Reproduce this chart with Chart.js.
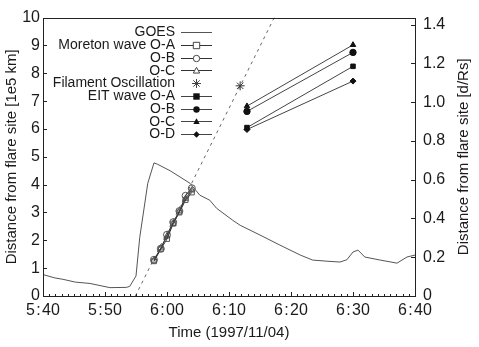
<!DOCTYPE html>
<html>
<head>
<meta charset="utf-8">
<script src="https://cdn.jsdelivr.net/npm/chart.js@4.4.1/dist/chart.umd.min.js"></script>
<style>
  html, body { margin: 0; padding: 0; background: #fff; }
  #wrap { width: 479px; height: 347px; }
</style>
</head>
<body>
<div id="wrap"><canvas id="chart" width="479" height="347"></canvas></div>
<script>
// Time axis is in minutes after 5:40 UT
const xTicks = [0, 10, 20, 30, 40, 50, 60];
const yTicksLeft = [0, 1, 2, 3, 4, 5, 6, 7, 8, 9, 10];
const yTicksRight = [0, 0.2, 0.4, 0.6, 0.8, 1.0, 1.2, 1.4];
const RSUN = 6.96; // 1e5 km per solar radius

// GOES light curve (scaled)
const goesTime = [0, 1.9, 3.2, 5.2, 7.6, 10.8, 13.5, 14.0, 15.0, 15.6, 16.9, 17.9, 18.5, 20.5, 23.7, 25.3, 26.9, 28.0, 30.6, 31.8, 35.0, 38.2, 41.5, 43.5, 45.8, 47.9, 49.0, 50.0, 50.8, 51.9, 54.4, 57.1, 58.7, 60];
const goesValue = [0.77, 0.65, 0.6, 0.5, 0.45, 0.3, 0.31, 0.35, 0.72, 2.1, 4.05, 4.78, 4.73, 4.5, 4.05, 3.62, 3.44, 3.15, 2.72, 2.54, 2.19, 1.83, 1.47, 1.29, 1.25, 1.22, 1.3, 1.58, 1.65, 1.4, 1.29, 1.18, 1.4, 1.47];

// Moreton wave fronts
const moretonTime = [17.9, 19.0, 20.0, 21.0, 22.0, 23.0, 24.0];
const moretonOA = [1.25, 1.68, 2.05, 2.6, 3.0, 3.45, 3.72];
const moretonOB = [1.3, 1.7, 2.2, 2.65, 3.05, 3.6, 3.87];
const moretonOC = [1.28, 1.72, 2.15, 2.6, 3.05, 3.5, 3.8];

// Filament oscillation and its extrapolated wave path
const filamentTime = [31.8];
const filamentValue = [7.55];
const pathTime = [14.9, 37.3];
const pathValue = [0, 10];

// EIT wave fronts
const eitTime = [32.9, 50.0];
const eitOA = [6.05, 8.25];
const eitOB = [6.63, 8.75];
const eitOC = [6.82, 9.02];
const eitOD = [5.98, 7.72];

const FONT = "'Liberation Sans', Arial, Helvetica, sans-serif";
const INK = '#1a1a1a';

function pts(xs, ys) {
  return xs.map((x, i) => ({ x: x, y: ys[i] }));
}

function fmtTime(m) {
  const total = 5 * 60 + 40 + m;
  const h = Math.floor(total / 60);
  const mm = String(total % 60).padStart(2, '0');
  return h + '\u200A:\u200A' + mm;
}

const datasets = [
  { label: 'GOES', data: pts(goesTime, goesValue), borderColor: '#555', borderWidth: 1, pointRadius: 0, marker: null, legendLine: true },
  { label: 'Moreton wave O-A', data: pts(moretonTime, moretonOA), borderColor: '#333', borderWidth: 1, pointStyle: 'rect', pointRadius: 3.5, pointBackgroundColor: 'rgba(255,255,255,0)', pointBorderColor: '#555', pointBorderWidth: 1, marker: 'rect', filled: false, legendLine: true },
  { label: 'O-B', data: pts(moretonTime, moretonOB), borderColor: '#333', borderWidth: 1, pointStyle: 'circle', pointRadius: 3.5, pointBackgroundColor: 'rgba(255,255,255,0)', pointBorderColor: '#555', pointBorderWidth: 1, marker: 'circle', filled: false, legendLine: true },
  { label: 'O-C', data: pts(moretonTime, moretonOC), borderColor: '#333', borderWidth: 1, pointStyle: 'triangle', pointRadius: 3.5, pointBackgroundColor: 'rgba(255,255,255,0)', pointBorderColor: '#555', pointBorderWidth: 1, marker: 'triangle', filled: false, legendLine: true },
  { label: 'Filament Oscillation', data: pts(filamentTime, filamentValue), showLine: false, pointStyle: 'star', pointRadius: 4.5, pointBorderColor: '#333', pointBorderWidth: 1, marker: 'star', legendLine: false },
  { label: 'EIT wave O-A', data: pts(eitTime, eitOA), borderColor: '#444', borderWidth: 1, pointStyle: 'rect', pointRadius: 3.2, pointBackgroundColor: '#111', pointBorderColor: '#111', marker: 'rect', filled: true, legendLine: true },
  { label: 'O-B', data: pts(eitTime, eitOB), borderColor: '#444', borderWidth: 1, pointStyle: 'circle', pointRadius: 3.2, pointBackgroundColor: '#111', pointBorderColor: '#111', marker: 'circle', filled: true, legendLine: true },
  { label: 'O-C', data: pts(eitTime, eitOC), borderColor: '#444', borderWidth: 1, pointStyle: 'triangle', pointRadius: 3.2, pointBackgroundColor: '#111', pointBorderColor: '#111', marker: 'triangle', filled: true, legendLine: true },
  { label: 'O-D', data: pts(eitTime, eitOD), borderColor: '#444', borderWidth: 1, pointStyle: 'rectRot', pointRadius: 3, pointBackgroundColor: '#111', pointBorderColor: '#111', marker: 'rectRot', filled: true, legendLine: true },
  { label: 'path', data: pts(pathTime, pathValue), borderColor: '#666', borderWidth: 1, borderDash: [3, 4], pointRadius: 0, inLegend: false }
];

// small marker drawer for the legend
function drawMarker(ctx, kind, x, y, r, filled) {
  ctx.beginPath();
  if (kind === 'rect') {
    ctx.rect(x - r, y - r, 2 * r, 2 * r);
  } else if (kind === 'circle') {
    ctx.arc(x, y, r, 0, Math.PI * 2);
  } else if (kind === 'triangle') {
    ctx.moveTo(x, y - r);
    ctx.lineTo(x + r, y + r * 0.8);
    ctx.lineTo(x - r, y + r * 0.8);
    ctx.closePath();
  } else if (kind === 'rectRot') {
    ctx.moveTo(x, y - r);
    ctx.lineTo(x + r, y);
    ctx.lineTo(x, y + r);
    ctx.lineTo(x - r, y);
    ctx.closePath();
  } else if (kind === 'star') {
    for (let a = 0; a < 4; a++) {
      const ang = a * Math.PI / 4;
      ctx.moveTo(x - r * Math.cos(ang), y - r * Math.sin(ang));
      ctx.lineTo(x + r * Math.cos(ang), y + r * Math.sin(ang));
    }
    ctx.stroke();
    return;
  }
  if (filled) { ctx.fillStyle = '#111'; ctx.fill(); }
  else { ctx.fillStyle = '#fff'; ctx.fill(); ctx.stroke(); }
}

const framePlugin = {
  id: 'frame',
  afterDraw(chart) {
    const ctx = chart.ctx;
    const a = chart.chartArea;
    const sx = chart.scales.x, sy = chart.scales.y, sy2 = chart.scales.y2;
    ctx.save();
    ctx.strokeStyle = '#222';
    ctx.lineWidth = 1;
    ctx.strokeRect(Math.round(a.left) + 0.5, Math.round(a.top) + 0.5, Math.round(a.right - a.left), Math.round(a.bottom - a.top));
    // inward ticks on the time axis
    ctx.beginPath();
    for (let m = 0; m <= 60; m++) {
      const px = Math.round(sx.getPixelForValue(m)) + 0.5;
      const len = m % 10 === 0 ? 4 : 2;
      ctx.moveTo(px, a.bottom);
      ctx.lineTo(px, a.bottom - len);
    }
    yTicksLeft.forEach(v => {
      const py = Math.round(sy.getPixelForValue(v)) + 0.5;
      ctx.moveTo(a.left, py);
      ctx.lineTo(a.left + 4, py);
    });
    yTicksRight.forEach(v => {
      const py = Math.round(sy2.getPixelForValue(v)) + 0.5;
      ctx.moveTo(a.right, py);
      ctx.lineTo(a.right - 4, py);
    });
    ctx.stroke();

    // right axis title reads bottom to top
    ctx.fillStyle = INK;
    ctx.font = '15px ' + FONT;
    ctx.textAlign = 'center';
    ctx.textBaseline = 'middle';
    ctx.translate(464, (a.top + a.bottom) / 2);
    ctx.rotate(-Math.PI / 2);
    ctx.fillText('Distance from flare site [d/Rs]', 0, 0);
    ctx.restore();

    // gnuplot-style key: text right aligned, sample to the right
    ctx.save();
    ctx.font = '14px ' + FONT;
    ctx.textAlign = 'right';
    ctx.textBaseline = 'middle';
    const textRight = 175, x0 = 181, x1 = 212, xm = (x0 + x1) / 2;
    let row = 0;
    chart.data.datasets.forEach(ds => {
      if (ds.inLegend === false) return;
      const y = 32 + row * 12.75;
      row++;
      ctx.fillStyle = INK;
      ctx.fillText(ds.label, textRight, y + 0.5);
      ctx.strokeStyle = ds.legendLine ? (ds.borderColor || '#444') : '#333';
      ctx.lineWidth = 1;
      if (ds.legendLine) {
        ctx.beginPath();
        ctx.moveTo(x0, Math.round(y) + 0.5);
        ctx.lineTo(x1, Math.round(y) + 0.5);
        ctx.stroke();
      }
      if (ds.marker) {
        ctx.strokeStyle = '#444';
        drawMarker(ctx, ds.marker, xm, Math.round(y) + 0.5, ds.marker === 'star' ? 4.5 : 3.2, ds.filled);
      }
    });
    ctx.restore();
  }
};

new Chart(document.getElementById('chart'), {
  type: 'scatter',
  data: { datasets: datasets.map(ds => Object.assign({ showLine: ds.showLine !== false, fill: false, tension: 0 }, ds)) },
  options: {
    responsive: false,
    animation: false,
    events: [],
    layout: { padding: { top: 17, left: 0, right: 0, bottom: 0 } },
    plugins: { legend: { display: false }, tooltip: { enabled: false } },
    scales: {
      x: {
        type: 'linear', min: 0, max: 60,
        afterBuildTicks: s => { s.ticks = xTicks.map(v => ({ value: v })); },
        afterFit: s => { s.height = 51; },
        grid: { display: false, drawTicks: false },
        border: { display: false },
        ticks: { color: INK, font: { family: FONT, size: 16 }, padding: 5, maxRotation: 0, callback: v => fmtTime(v) },
        title: { display: true, text: 'Time (1997/11/04)', color: INK, font: { family: FONT, size: 15 }, padding: { top: 0, bottom: 5 } }
      },
      y: {
        type: 'linear', position: 'left', min: 0, max: 10,
        afterBuildTicks: s => { s.ticks = yTicksLeft.map(v => ({ value: v })); },
        afterFit: s => { s.width = 43; },
        grid: { display: false, drawTicks: false },
        border: { display: false },
        ticks: { color: INK, font: { family: FONT, size: 16 }, padding: 3 },
        title: { display: true, text: 'Distance from flare site [1e5 km]', color: INK, font: { family: FONT, size: 15 }, padding: { top: 3, bottom: 0 } }
      },
      y2: {
        type: 'linear', position: 'right', min: 0, max: 10 / RSUN,
        afterBuildTicks: s => { s.ticks = yTicksRight.map(v => ({ value: v })); },
        afterFit: s => { s.width = 64; },
        grid: { display: false, drawTicks: false },
        border: { display: false },
        ticks: { color: INK, font: { family: FONT, size: 16 }, padding: 8, callback: v => v === 0 ? '0' : v.toFixed(1) }
      }
    }
  },
  plugins: [framePlugin]
});
</script>
</body>
</html>
